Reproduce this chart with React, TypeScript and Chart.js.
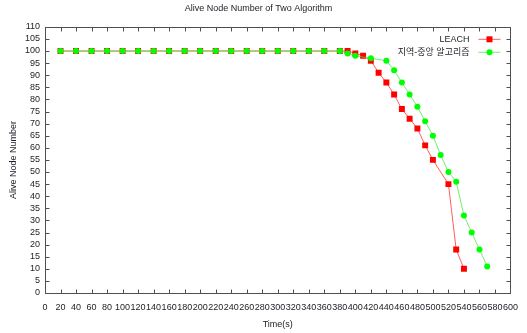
import React, { useEffect, useRef } from 'react';
import { Chart, registerables } from 'chart.js';

Chart.register(...registerables);

const TITLE = 'Alive Node Number of Two Algorithm';
const X_TITLE = 'Time(s)';
const Y_TITLE = 'Alive Node Number';
const SERIES_NAMES = ['LEACH', '지역-중앙 알고리즘'];

const leachX = [20, 40, 60, 80, 100, 120, 140, 160, 180, 200, 220, 240, 260, 280, 300, 320, 340, 360, 380, 390, 400, 410, 420, 430, 440, 450, 460, 470, 480, 490, 500, 520, 530, 540];
const leachY = [100, 100, 100, 100, 100, 100, 100, 100, 100, 100, 100, 100, 100, 100, 100, 100, 100, 100, 100, 100, 99, 98, 96, 91, 87, 82, 76, 72, 68, 61, 55, 45, 18, 10];

const regionX = [20, 40, 60, 80, 100, 120, 140, 160, 180, 200, 220, 240, 260, 280, 300, 320, 340, 360, 380, 390, 400, 420, 440, 450, 460, 470, 480, 490, 500, 510, 520, 530, 540, 550, 560, 570];
const regionY = [100, 100, 100, 100, 100, 100, 100, 100, 100, 100, 100, 100, 100, 100, 100, 100, 100, 100, 100, 99, 98, 97, 96, 92, 87, 82, 77, 71, 65, 57, 50, 46, 32, 25, 18, 11];

const X_MIN = 0;
const X_MAX = 600;
const X_STEP = 20;
const Y_MIN = 0;
const Y_MAX = 110;
const Y_STEP = 5;

const FAMILY = '"Liberation Sans", Arial, "Noto Sans CJK KR", sans-serif';
const TEXT_COLOR = '#1c1c24';
const FRAME_COLOR = '#505050';

const RED_LINE = 'rgba(255, 40, 40, 0.75)';
const RED_POINT = '#ff0000';
const GREEN_LINE = 'rgba(60, 235, 60, 0.75)';
const GREEN_POINT = '#00ff00';

const toPoints = (xs: number[], ys: number[]) => xs.map((x, i) => ({ x, y: ys[i] }));

const framePlugin = {
  id: 'gnuplotFrame',
  beforeDatasetsDraw(chart: any) {
    const { ctx, chartArea: a, scales } = chart;
    const L = Math.round(a.left) + 0.5;
    const R = Math.round(a.right) + 0.5;
    const T = Math.round(a.top) + 0.5;
    const B = Math.round(a.bottom) + 0.5;
    ctx.save();
    ctx.strokeStyle = FRAME_COLOR;
    ctx.lineWidth = 1;
    ctx.strokeRect(L, T, R - L, B - T);
    const tick = 4;
    ctx.beginPath();
    for (let v = X_MIN + X_STEP; v < X_MAX; v += X_STEP) {
      const px = Math.round(scales.x.getPixelForValue(v)) + 0.5;
      ctx.moveTo(px, B);
      ctx.lineTo(px, B - tick);
      ctx.moveTo(px, T);
      ctx.lineTo(px, T + tick);
    }
    for (let v = Y_MIN + Y_STEP; v < Y_MAX; v += Y_STEP) {
      const py = Math.round(scales.y.getPixelForValue(v)) + 0.5;
      ctx.moveTo(L, py);
      ctx.lineTo(L + tick, py);
      ctx.moveTo(R, py);
      ctx.lineTo(R - tick, py);
    }
    ctx.stroke();
    ctx.restore();
  },
  afterDatasetsDraw(chart: any) {
    const { ctx, chartArea: a } = chart;
    const entries = [
      { name: SERIES_NAMES[0], line: RED_LINE, point: RED_POINT, shape: 'rect' },
      { name: SERIES_NAMES[1], line: GREEN_LINE, point: GREEN_POINT, shape: 'circle' },
    ];
    ctx.save();
    ctx.font = `9px ${FAMILY}`;
    ctx.textAlign = 'right';
    ctx.textBaseline = 'middle';
    entries.forEach((e, i) => {
      const y = a.top + 12.5 + i * 13;
      ctx.fillStyle = TEXT_COLOR;
      ctx.fillText(e.name, a.right - 41, y);
      ctx.strokeStyle = e.line;
      ctx.lineWidth = 1;
      ctx.beginPath();
      ctx.moveTo(a.right - 32, y);
      ctx.lineTo(a.right - 10, y);
      ctx.stroke();
      const cx = a.right - 21;
      ctx.fillStyle = e.point;
      ctx.beginPath();
      if (e.shape === 'rect') {
        ctx.rect(cx - 3, y - 3, 6, 6);
      } else {
        ctx.arc(cx, y, 3, 0, Math.PI * 2);
      }
      ctx.fill();
    });
    ctx.restore();
  },
};

export default function App() {
  const canvasRef = useRef<HTMLCanvasElement | null>(null);

  useEffect(() => {
    if (!canvasRef.current) return;
    const font = { family: FAMILY, size: 9, weight: 'normal' as const };
    const chart = new Chart(canvasRef.current, {
      type: 'line',
      data: {
        datasets: [
          {
            label: SERIES_NAMES[0],
            data: toPoints(leachX, leachY),
            borderColor: RED_LINE,
            backgroundColor: RED_POINT,
            borderWidth: 1,
            pointStyle: 'rect',
            pointRadius: 4.2,
            pointBorderWidth: 0,
            pointBackgroundColor: RED_POINT,
            tension: 0,
            order: 1,
          },
          {
            label: SERIES_NAMES[1],
            data: toPoints(regionX, regionY),
            borderColor: GREEN_LINE,
            backgroundColor: GREEN_POINT,
            borderWidth: 1,
            pointStyle: 'circle',
            pointRadius: 3,
            pointBorderWidth: 0,
            pointBackgroundColor: GREEN_POINT,
            tension: 0,
            order: 0,
          },
        ],
      },
      options: {
        animation: false,
        responsive: false,
        layout: { padding: { top: 0, right: 10, bottom: 0, left: 0 } },
        plugins: {
          legend: { display: false },
          tooltip: { enabled: false },
          title: {
            display: true,
            text: TITLE,
            color: TEXT_COLOR,
            font,
            padding: { top: 3, bottom: 13 },
          },
        },
        scales: {
          x: {
            type: 'linear',
            min: X_MIN,
            max: X_MAX,
            grid: { display: false, drawTicks: false },
            border: { display: false },
            ticks: {
              stepSize: X_STEP,
              autoSkip: false,
              maxRotation: 0,
              minRotation: 0,
              padding: 9,
              color: TEXT_COLOR,
              font,
            },
            title: {
              display: true,
              text: X_TITLE,
              color: TEXT_COLOR,
              font,
              padding: { top: 0, bottom: 3 },
            },
            afterFit: (s: any) => {
              s.height = 40;
            },
          },
          y: {
            type: 'linear',
            min: Y_MIN,
            max: Y_MAX,
            grid: { display: false, drawTicks: false },
            border: { display: false },
            ticks: {
              stepSize: Y_STEP,
              autoSkip: false,
              padding: 5,
              color: TEXT_COLOR,
              font,
            },
            title: {
              display: true,
              text: Y_TITLE,
              color: TEXT_COLOR,
              font,
              padding: { top: 8, bottom: 0 },
            },
            afterFit: (s: any) => {
              s.width = 45;
            },
          },
        },
      },
      plugins: [framePlugin],
    });
    return () => chart.destroy();
  }, []);

  return (
    <div style={{ position: 'absolute', left: 0, top: 0, width: 527, height: 333, background: '#fff' }}>
      <canvas ref={canvasRef} width={527} height={333} style={{ display: 'block', width: 527, height: 333 }} />
    </div>
  );
}
